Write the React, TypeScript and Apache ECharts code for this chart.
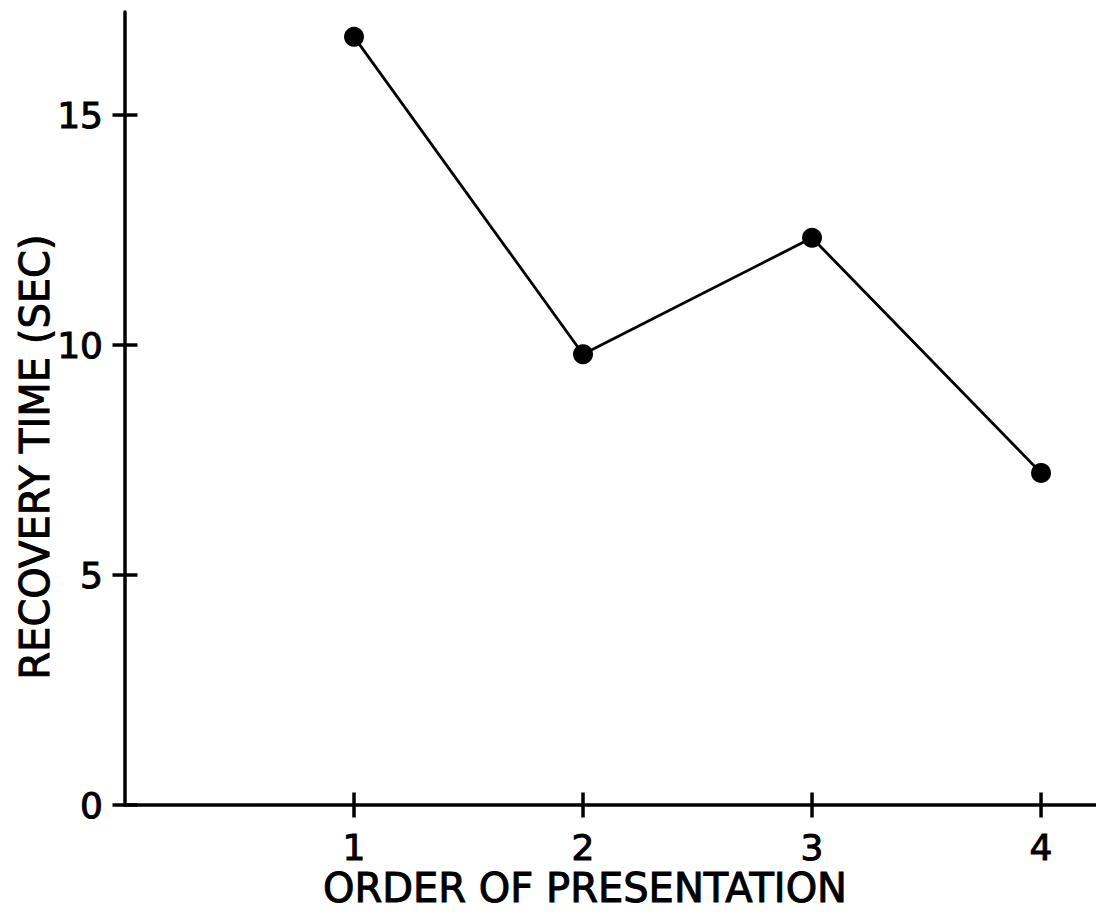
import React, { useEffect, useRef } from "react";
import * as echarts from "echarts";

const orders = [1, 2, 3, 4];
const recoveryTimes = [16.7, 9.8, 12.33, 7.22];
const yTicks = [0, 5, 10, 15];
const xTitle = "ORDER OF PRESENTATION";
const yTitle = "RECOVERY TIME (SEC)";

const FONT = "DejaVu Sans";

export default function App() {
  const ref = useRef<HTMLDivElement>(null);
  useEffect(() => {
    if (!ref.current) return;
    const chart = echarts.init(ref.current, null, { renderer: "svg" });
    const axisLine = { show: true, onZero: false, lineStyle: { color: "#000", width: 3.5 } };
    const labelStyle = {
      color: "#000",
      fontFamily: FONT,
      fontSize: 36,
      textBorderColor: "#000",
      textBorderWidth: 1,
    };
    const titleStyle = {
      fill: "#000",
      font: `40px "${FONT}"`,
      stroke: "#000",
      lineWidth: 1,
      align: "center",
      verticalAlign: "middle",
    };
    const tickRender = (horizontal: boolean) => (params: any, api: any) => {
      const p = api.coord([api.value(0), api.value(1)]);
      const half = 12.5;
      return {
        type: "line",
        shape: horizontal
          ? { x1: p[0] - half, y1: p[1], x2: p[0] + half, y2: p[1] }
          : { x1: p[0], y1: p[1] - half, x2: p[0], y2: p[1] + half },
        style: { stroke: "#000", lineWidth: 3.5 },
      };
    };
    chart.setOption({
      animation: false,
      backgroundColor: "#fff",
      grid: { left: 125, right: 0, top: 12, bottom: 112, containLabel: false, show: false },
      xAxis: {
        type: "value",
        min: 0,
        max: 4.24,
        interval: 1,
        splitLine: { show: false },
        splitArea: { show: false },
        axisLine,
        axisTick: { show: false },
        axisLabel: { ...labelStyle, margin: 24, customValues: orders, formatter: (v: number) => String(v) },
        z: 20,
      },
      yAxis: {
        type: "value",
        min: 0,
        max: 17.24,
        interval: 5,
        splitLine: { show: false },
        splitArea: { show: false },
        axisLine,
        axisTick: { show: false },
        axisLabel: { ...labelStyle, margin: 22, customValues: yTicks, formatter: (v: number) => String(v) },
        z: 20,
      },
      graphic: [
        {
          type: "text",
          x: 585,
          y: 888,
          style: { text: xTitle, ...titleStyle },
        },
        {
          type: "text",
          x: 35,
          y: 457,
          rotation: Math.PI / 2,
          style: { text: yTitle, ...titleStyle },
        },
      ],
      series: [
        {
          type: "custom",
          name: "xTicks",
          data: orders.map((o) => [o, 0]),
          renderItem: tickRender(false),
          clip: false,
          silent: true,
          z: 30,
        },
        {
          type: "custom",
          name: "yTicks",
          data: yTicks.map((t) => [0, t]),
          renderItem: tickRender(true),
          clip: false,
          silent: true,
          z: 30,
        },
        {
          type: "line",
          data: orders.map((o, i) => [o, recoveryTimes[i]]),
          symbol: "circle",
          symbolSize: 20,
          lineStyle: { color: "#000", width: 2.8 },
          itemStyle: { color: "#000" },
          z: 25,
        },
      ],
    });
    return () => chart.dispose();
  }, []);
  return (
    <div
      ref={ref}
      style={{ position: "fixed", left: 0, top: 0, width: 1096, height: 917, background: "#fff" }}
    />
  );
}
